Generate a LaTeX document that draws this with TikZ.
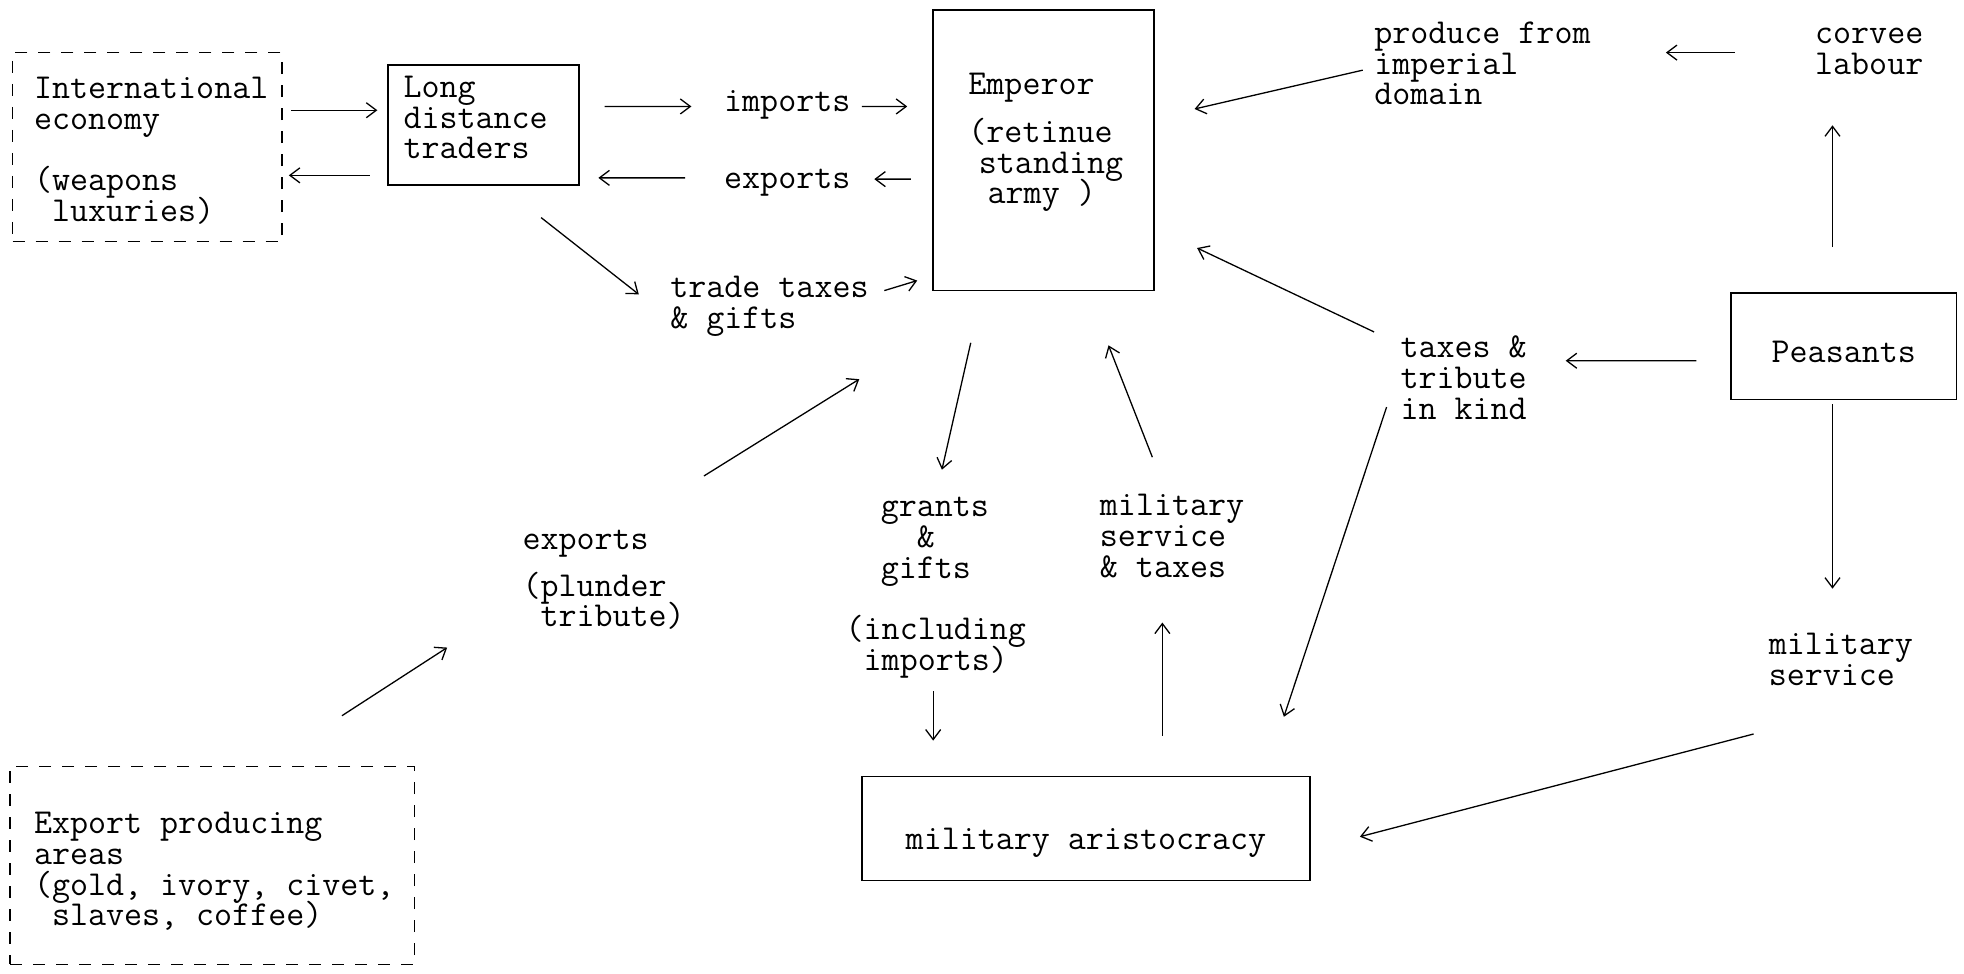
\documentclass[tikz,border=0pt]{standalone}
\usepackage{fontspec}
\usetikzlibrary{arrows.meta,calc}
\def\ux{1.2526pt}
\newcommand\tyfont{\ttfamily\fontsize{35}{30.7}\selectfont\lineskiplimit=-100pt\relax}
\newcommand\tst{\rule{0pt}{28pt}}
\begin{document}
\begin{tikzpicture}[x=1.2526pt,y=-1.2526pt,
  box/.style={draw, line width=1.8pt, inner sep=0pt},
  dbox/.style={box, line width=1.5pt, dash pattern=on 12pt off 11pt},
  txt/.style={anchor=north west, inner sep=0pt, align=left, font=\tyfont},
  arr/.style={line width=1.3pt, -{Straight Barb[length=10pt,width=15pt,line width=1.3pt]}}
]
\fill[white] (0,0) rectangle (1568,777);
\useasboundingbox (0,0) rectangle (1568,777);

% boxes
\node[dbox, minimum width=215*\ux, minimum height=151*\ux] (intl) at (117.5,117.5) {};
\node[box, minimum width=152*\ux, minimum height=96*\ux] (ldt) at (386,100) {};
\node[box, minimum width=176*\ux, minimum height=224*\ux] (emp) at (833,120) {};
\node[box, minimum width=180*\ux, minimum height=85*\ux, font=\tyfont, text height=32pt, text depth=0pt] (peas) at (1472,276.5) {Peasants};
\node[box, minimum width=358*\ux, minimum height=83*\ux, font=\tyfont, text height=42pt, text depth=0pt] (arist) at (867,661.5) {military aristocracy};
\node[dbox, minimum width=323*\ux, minimum height=158*\ux] (expa) at (169.5,691) {};

% texts
\node[txt] (t_intl) at (27,73-16.8) {\tst International\\economy\\\mbox{}\\(weapons\\\hphantom{x}luxuries)};
\node[txt] (t_ldt) at (322,72-16.8) {\tst Long\\distance\\traders};
\node[txt] (t_imp) at (578,83-16.8) {\tst imports};
\node[txt] (t_exp) at (578,145-16.8) {\tst exports};
\node[txt] (t_emp) at (773,70-16.8) {\tst Emperor\\[17pt](retinue\\\hspace*{0.3em}standing\\\hspace*{0.55em}army )};
\node[txt] (t_trade) at (535,232-16.8) {\tst trade taxes\\\& gifts};
\node[txt] (t_prod) at (1097,29-16.8) {\tst produce from\\imperial\\domain};
\node[txt] (t_corv) at (1449,29-16.8) {\tst corvee\\labour};
\node[txt] (t_taxes) at (1118,280-16.8) {\tst taxes \&\\tribute\\in kind};
\node[txt] (t_milsv) at (1412,517-16.8) {\tst military\\service};
\node[txt] (t_grants) at (703,407-16.8) {\tst grants\\\hphantom{xx}\&\\gifts};
\node[txt] (t_incl) at (675,505-16.8) {\tst (including\\\hphantom{x}imports)};
\node[txt] (t_milt) at (878,406-16.8) {\tst military\\service\\\& taxes};
\node[txt] (t_expo) at (417,433-16.8) {\tst exports\\[16pt](plunder\\\hphantom{x}tribute)};
\node[txt] (t_expa) at (27,660-16.8) {\tst Export producing\\areas\\(gold, ivory, civet,\\\hphantom{x}slaves, coffee)};

% connectors
\draw[arr] ($(intl.east)+(7,-29.5)$) -- ($(ldt.west)+(-8,-12)$);
\draw[arr] ($(ldt.west)+(-14,40)$) -- ($(intl.east)+(5,22.5)$);
\draw[arr] ($(ldt.east)+(20,-15)$) -- ($(t_imp.north west)+(-26,18.8)$);
\draw[arr] ($(t_imp.north west)+(110,18.8)$) -- ($(emp.west)+(-20,-35)$);
\draw[arr] ($(emp.west)+(-17,23)$) -- ($(t_exp.north west)+(120,14.8)$);
\draw[arr] ($(t_exp.north west)+(-31,13.8)$) -- ($(ldt.east)+(15,42)$);
\draw[arr] ($(ldt.south)+(46,25)$) -- ($(t_trade.north west)+(-25,19.8)$);
\draw[arr] ($(t_trade.north west)+(171,16.8)$) -- ($(emp.west)+(-12,104)$);
\draw[arr] ($(t_prod.north west)+(-9,43.8)$) -- ($(emp.east)+(32,-33)$);
\draw[arr] ($(t_corv.north west)+(-64,29.8)$) -- ($(t_prod.north west)+(233,29.8)$);
\draw[arr] ($(peas.north)+(-9,-36)$) -- ($(t_corv.north west)+(14,87.8)$);
\draw[arr] ($(peas.west)+(-27,11.5)$) -- ($(t_taxes.north west)+(132,24.8)$);
\draw[arr] ($(t_taxes.north west)+(-21,1.8)$) -- ($(emp.east)+(34,78)$);
\draw[arr] ($(t_taxes.north west)+(-11,61.8)$) -- ($(arist.north)+(158,-47)$);
\draw[arr] ($(peas.south)+(-9,3)$) -- ($(t_milsv.north west)+(51,-30.2)$);
\draw[arr] ($(t_milsv.north west)+(-12,85.8)$) -- ($(arist.east)+(39,6.5)$);
\draw[arr] ($(emp.south)+(-58,41)$) -- ($(t_grants.north west)+(49,-15.2)$);
\draw[arr] ($(t_incl.north west)+(70,63.8)$) -- ($(arist.north)+(-122,-28)$);
\draw[arr] ($(arist.north)+(61,-32)$) -- ($(t_milt.north west)+(50,107.8)$);
\draw[arr] ($(t_milt.north west)+(42,-24.2)$) -- ($(emp.south)+(52,43)$);
\draw[arr] ($(t_expo.north west)+(145,-36.2)$) -- ($(emp.south)+(-147,70)$);
\draw[arr] ($(expa.north)+(103.5,-40)$) -- ($(t_expo.north west)+(-60,100.8)$);
\end{tikzpicture}
\end{document}
